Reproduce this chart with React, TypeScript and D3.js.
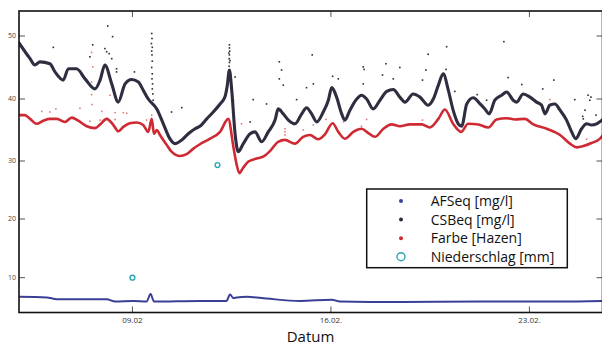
import React from "react";
import * as d3 from "d3";

// Time is given as fractional day of February 2013, values in the units of each series.
const csbeq: [number, number][] = [
  [5.0, 48.9], [5.39, 46.4], [5.56, 45.4], [5.74, 45.9], [6.09, 45.6], [6.27, 44.3],
  [6.56, 43.0], [6.74, 44.8], [7.03, 44.8], [7.33, 43.2], [7.68, 41.6], [7.86, 43.0],
  [8.03, 45.4], [8.27, 42.4], [8.5, 39.5], [8.74, 42.4], [8.97, 43.1], [9.21, 42.7],
  [9.38, 41.4], [9.56, 40.0], [9.86, 38.4], [10.09, 36.0], [10.32, 33.6], [10.5, 32.8],
  [10.74, 33.4], [10.97, 34.4], [11.21, 35.2], [11.38, 35.6], [11.62, 36.8], [11.85, 37.9],
  [12.09, 39.2], [12.26, 40.3], [12.34, 42.0], [12.42, 44.6], [12.5, 41.5], [12.62, 34.4],
  [12.73, 31.5], [12.91, 32.8], [13.15, 34.4], [13.32, 34.7], [13.56, 33.1], [13.79, 34.7],
  [14.03, 36.6], [14.14, 38.4], [14.32, 37.6], [14.5, 36.6], [14.73, 36.0], [14.97, 37.6],
  [15.14, 38.6], [15.32, 37.6], [15.5, 36.3], [15.73, 37.9], [15.91, 39.8], [16.03, 41.8],
  [16.2, 40.3], [16.38, 37.6], [16.49, 36.6], [16.67, 38.2], [16.91, 40.0], [17.08, 40.6],
  [17.26, 40.0], [17.49, 38.4], [17.73, 39.8], [17.97, 41.2], [18.2, 41.5], [18.43, 40.3],
  [18.61, 39.5], [18.9, 40.8], [19.14, 40.3], [19.43, 39.0], [19.61, 40.0], [19.79, 42.2],
  [19.96, 44.0], [20.14, 41.4], [20.31, 38.2], [20.49, 36.0], [20.61, 35.6], [20.79, 39.2],
  [21.02, 40.2], [21.26, 39.2], [21.43, 38.4], [21.58, 37.6], [21.78, 39.8], [22.02, 40.6],
  [22.2, 41.1], [22.43, 39.8], [22.55, 39.5], [22.78, 40.8], [23.02, 40.3], [23.25, 39.5],
  [23.43, 39.0], [23.55, 37.6], [23.72, 39.0], [23.9, 39.2], [24.08, 38.2], [24.31, 36.6],
  [24.49, 34.7], [24.63, 33.6], [24.84, 35.2], [25.02, 36.0], [25.19, 35.8], [25.37, 36.0],
  [25.56, 36.6],
];

const farbe: [number, number][] = [
  [5.0, 37.4], [5.21, 37.4], [5.39, 36.8], [5.62, 36.0], [5.86, 36.5], [6.09, 36.8],
  [6.33, 36.8], [6.62, 36.3], [6.86, 37.0], [7.09, 36.5], [7.39, 35.6], [7.68, 35.3],
  [7.86, 35.9], [8.09, 36.8], [8.33, 35.8], [8.5, 34.8], [8.68, 35.5], [8.91, 36.1],
  [9.15, 36.2], [9.38, 35.8], [9.56, 34.7], [9.68, 36.8], [9.76, 34.4], [9.86, 35.0],
  [9.97, 34.2], [10.21, 32.6], [10.38, 31.5], [10.68, 30.8], [10.91, 31.1], [11.15, 32.0],
  [11.38, 32.7], [11.74, 33.6], [12.09, 34.7], [12.38, 36.8], [12.56, 32.3], [12.67, 29.5],
  [12.77, 27.9], [12.9, 28.8], [13.09, 29.9], [13.38, 30.4], [13.61, 30.7], [13.85, 31.6],
  [14.14, 33.1], [14.38, 33.4], [14.73, 32.8], [15.02, 33.9], [15.26, 34.2], [15.55, 33.5],
  [15.79, 34.3], [16.06, 36.1], [16.26, 34.7], [16.49, 33.6], [16.79, 34.7], [17.08, 35.2],
  [17.32, 34.5], [17.55, 33.9], [17.85, 35.2], [18.14, 35.9], [18.43, 35.6], [18.79, 35.9],
  [19.2, 35.9], [19.49, 35.4], [19.79, 36.8], [20.02, 38.3], [20.31, 36.0], [20.59, 34.7],
  [20.84, 36.0], [21.2, 35.9], [21.55, 35.4], [21.84, 36.7], [22.2, 36.9], [22.49, 36.7],
  [22.84, 36.8], [23.14, 35.9], [23.61, 35.2], [24.08, 34.2], [24.43, 32.8], [24.67, 32.2],
  [24.9, 32.4], [25.19, 32.9], [25.49, 33.6], [25.56, 34.0],
];

const afseq: [number, number][] = [
  [5.0, 6.7], [5.98, 6.6], [6.33, 6.3], [8.09, 6.3], [8.39, 5.9], [9.03, 6.0],
  [9.5, 5.9], [9.64, 7.2], [9.76, 5.9], [11.38, 6.0], [12.32, 6.0], [12.44, 7.1],
  [12.56, 6.5], [12.68, 6.6], [13.03, 6.7], [13.73, 6.4], [14.91, 6.0], [16.03, 6.2],
  [16.32, 5.9], [18.43, 5.8], [21.26, 5.9], [24.08, 5.9], [25.56, 6.0],
];

// Isolated CSBeq readings away from the main band
const csbeqScatter: [number, number][] = [
  [6.21, 48.2], [7.6, 48.6], [7.5, 46.7], [8.13, 51.6], [8.3, 49.9], [8.03, 48.0],
  [8.09, 47.5], [8.18, 47.2], [8.27, 46.4], [8.44, 44.8], [8.44, 44.3], [9.07, 44.3],
  [10.74, 38.6], [10.38, 37.9],
  [9.68, 50.4], [9.69, 49.6], [9.67, 48.8], [9.7, 48.2], [9.68, 47.6], [9.69, 47.0],
  [9.7, 46.0], [9.68, 45.0], [9.7, 44.0], [9.69, 43.2], [9.71, 42.4], [9.7, 41.6],
  [9.72, 40.8], [9.73, 39.8], [9.75, 39.0],
  [12.41, 45.2], [12.42, 45.8], [12.41, 46.4], [12.42, 47.0], [12.43, 47.6], [12.42, 48.1],
  [12.42, 48.6], [12.44, 46.1], [12.4, 47.3],
  [14.18, 45.9], [14.26, 44.6], [14.18, 43.2], [14.32, 42.2], [15.34, 47.0], [13.26, 39.9],
  [13.73, 39.2], [13.15, 36.3], [14.79, 39.9], [15.14, 41.8], [15.38, 42.4], [16.06, 43.6],
  [16.26, 43.2], [17.14, 45.1], [17.17, 44.7], [17.94, 45.6], [17.82, 43.8], [18.2, 43.2],
  [17.14, 42.4], [12.62, 43.5], [12.56, 39.8],
  [19.43, 47.1], [20.08, 48.3], [22.1, 49.1], [18.43, 45.0], [19.35, 44.6], [19.23, 43.0],
  [20.06, 44.7], [20.37, 41.2], [21.16, 40.7], [21.49, 39.8], [22.25, 43.4], [22.73, 42.3],
  [23.47, 41.6], [23.86, 43.0], [24.6, 39.9], [25.07, 40.6], [25.13, 39.8], [24.88, 37.2],
  [24.9, 36.8], [25.17, 40.3], [24.96, 38.2], [25.35, 37.4],
];

// Isolated Farbe readings
const farbeScatter: [number, number][] = [
  [5.8, 38.0], [6.09, 37.9], [6.3, 38.4], [7.15, 38.5], [7.56, 47.4], [7.6, 45.1],
  [7.56, 42.7], [7.56, 40.7], [7.57, 39.1], [7.92, 38.0], [8.39, 37.8], [8.68, 37.8],
  [8.8, 37.7], [8.21, 40.6], [7.5, 36.4], [7.86, 36.6], [8.39, 36.7], [9.5, 36.6],
  [9.68, 37.4], [12.85, 36.0], [14.38, 35.2], [14.38, 34.7], [14.38, 34.2], [15.02, 35.0],
  [15.38, 35.8], [15.83, 36.7], [16.44, 36.3], [17.08, 35.6], [17.26, 36.7], [19.23, 36.6],
  [23.72, 39.9], [23.37, 35.6], [25.02, 33.5],
];

const niederschlag: [number, number][] = [
  [9.0, 10.0],
  [12.0, 29.3],
];

const xTickDays = [9, 16, 23];
const xTickLabels = ["09.02", "16.02.", "23.02."];
const yTicks = [10, 20, 30, 40, 50];

const legendItems = [
  { label: "AFSeq [mg/l]", color: "#3a3f95", kind: "dot" },
  { label: "CSBeq [mg/l]", color: "#2b2b3b", kind: "dot" },
  { label: "Farbe [Hazen]", color: "#cf2a33", kind: "dot" },
  { label: "Niederschlag [mm]", color: "#2aa6b4", kind: "ring" },
];

const W = 602;
const H = 344;
const L = 19;
const T = 11;
const R = 602.5;
const B = 312.5;
const FONT = "'Open Sans', 'Noto Sans', sans-serif";

const toDate = (d: number) => new Date(Date.UTC(2013, 1, 1) + (d - 1) * 864e5);

export default function App() {
  const x = d3.scaleUtc().domain([toDate(5), toDate(25.56)]).range([L, 602]);
  // axis is slightly compressed below 30
  const y = d3
    .scaleLinear()
    .domain([4, 10, 20, 30, 40, 50, 54])
    .range([B, 277.7, 219, 161, 99, 36, T]);

  const line = d3
    .line<[number, number]>()
    .x((p) => x(toDate(p[0])))
    .y((p) => y(p[1]))
    .curve(d3.curveMonotoneX);

  return (
    <svg
      width={W}
      height={H}
      style={{ position: "absolute", left: 0, top: 0, background: "#fff" }}
      fontFamily={FONT}
    >
      <defs>
        <clipPath id="plot">
          <rect x={L} y={T} width={R - L} height={B - T} />
        </clipPath>
      </defs>

      <g clipPath="url(#plot)">
        <path d={line(csbeq) ?? ""} fill="none" stroke="#2e2e40" strokeWidth={3.1}
          strokeLinejoin="round" strokeLinecap="round" />
        {csbeqScatter.map((p, i) => (
          <rect key={"c" + i} x={x(toDate(p[0])) - 0.8} y={y(p[1]) - 0.8} width={1.6} height={1.6}
            fill="#2b2b3b" />
        ))}
        <path d={line(farbe) ?? ""} fill="none" stroke="#cf2a33" strokeWidth={2.6}
          strokeLinejoin="round" strokeLinecap="round" />
        {farbeScatter.map((p, i) => (
          <rect key={"f" + i} x={x(toDate(p[0])) - 0.75} y={y(p[1]) - 0.75} width={1.5} height={1.5}
            fill="#d9464e" opacity={0.8} />
        ))}
        <path d={line(afseq) ?? ""} fill="none" stroke="#3a3f95" strokeWidth={2}
          strokeLinejoin="round" strokeLinecap="round" />
        {niederschlag.map((p, i) => (
          <circle key={"n" + i} cx={x(toDate(p[0]))} cy={y(p[1])} r={2.4} fill="none"
            stroke="#2aa6b4" strokeWidth={1.4} />
        ))}
      </g>

      {/* ticks on all four sides, pointing inward */}
      {yTicks.map((t) => (
        <g key={"y" + t}>
          <line x1={L} x2={L + 6} y1={y(t)} y2={y(t)} stroke="#555" strokeWidth={1} />
          <line x1={R - 6} x2={R} y1={y(t)} y2={y(t)} stroke="#555" strokeWidth={1} />
          <text x={16} y={y(t)} dy="0.35em" textAnchor="end" fontSize={7} fill="#444">
            {t}
          </text>
        </g>
      ))}
      {xTickDays.map((d, i) => (
        <g key={"x" + d}>
          <line x1={x(toDate(d))} x2={x(toDate(d))} y1={B} y2={B - 6} stroke="#555" strokeWidth={1} />
          <line x1={x(toDate(d))} x2={x(toDate(d))} y1={T} y2={T + 6} stroke="#555" strokeWidth={1} />
          <text x={x(toDate(d))} y={322.5} textAnchor="middle" fontSize={8} fill="#333">
            {xTickLabels[i]}
          </text>
        </g>
      ))}

      <rect x={L} y={T} width={R - L} height={B - T} fill="none" stroke="#111" strokeWidth={1.6} />

      <text x={310.5} y={341.5} textAnchor="middle" fontSize={15} fill="#111">
        Datum
      </text>

      <g>
        <rect x={366.7} y={189} width={200.6} height={78.7} fill="#fff" stroke="#111" strokeWidth={1.5} />
        {legendItems.map((it, i) => {
          const cy = 201 + i * 18.6;
          return (
            <g key={it.label}>
              {it.kind === "dot" ? (
                <circle cx={401} cy={cy} r={2} fill={it.color} />
              ) : (
                <circle cx={401} cy={cy} r={4} fill="none" stroke={it.color} strokeWidth={1.4} />
              )}
              <text x={430.7} y={cy} dy="0.36em" fontSize={14} fill="#111">
                {it.label}
              </text>
            </g>
          );
        })}
      </g>
    </svg>
  );
}
